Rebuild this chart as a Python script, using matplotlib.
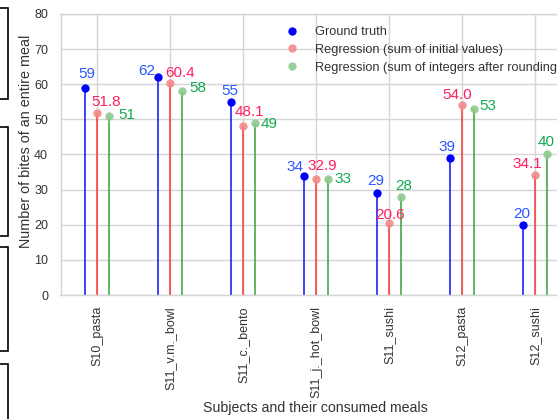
import matplotlib
matplotlib.use("Agg")
import matplotlib.pyplot as plt
from matplotlib.patches import Rectangle
import numpy as np

plt.rcParams['font.family'] = ['Liberation Sans', 'DejaVu Sans']

categories = ["S10_pasta", "S11_v.m._bowl", "S11_c._bento", "S11_j._hot_bowl",
              "S11_sushi", "S12_pasta", "S12_sushi"]
ground_truth = [59, 62, 55, 34, 29, 39, 20]
reg_initial = [51.8, 60.4, 48.1, 32.9, 20.6, 54.0, 34.1]
reg_rounded = [51, 58, 49, 33, 28, 53, 40]
y_ticks = [0, 10, 20, 30, 40, 50, 60, 70, 80]

# label offsets (pixels, image y-down) -- layout only
off_gt = [(1.5, -14), (-11.5, -6), (-1, -11), (-9.5, -9), (-1, -12.5), (-3, -11), (-1, -11)]
off_ri = [(9, -11), (10, -10), (6.5, -14), (6, -13), (1, -8), (-5, -10), (-8, -11)]
off_rr = [(17.5, -1), (15.5, -3.5), (14.5, 1), (15, 0), (2.5, -10.5), (14, -3), (-1, -12)]

W, H = 557, 419
fig = plt.figure(figsize=(W / 100, H / 100), dpi=100)
ax = fig.add_axes([60.5 / W, (H - 295) / H, 511 / W, 281 / H])

x = np.arange(len(categories))
d = 0.164

series = [
    (ground_truth, -d, '#0000ff', '#0000ff', 1.0, '#2a55ff', off_gt, "Ground truth", lambda v: f"{v:d}"),
    (reg_initial, 0.0, '#ff2a2a', '#f28a8a', 0.9, '#ff1f5f', off_ri, "Regression (sum of initial values)", lambda v: f"{v:.1f}"),
    (reg_rounded, d, '#2e9a2e', '#8fca8f', 0.9, '#11aa4e', off_rr, "Regression (sum of integers after rounding)", lambda v: f"{v:d}"),
]

for vals, dx, lc, mc, ma, tc, offs, lab, fmt in series:
    xs = x + dx
    ax.vlines(xs, 0, vals, colors=lc, linewidth=1.3, alpha=0.8, zorder=2)
    ax.plot(xs, vals, 'o', color=mc, markersize=6, alpha=ma, zorder=3, label=lab,
            markeredgewidth=0)
    for xi, v, (ox, oy) in zip(xs, vals, offs):
        ax.annotate(fmt(v), (xi, v), xytext=(ox, -oy), textcoords='offset pixels',
                    ha='center', va='center', color=tc, fontsize=11, zorder=4)

ax.set_xlim(-0.5, len(categories) - 0.5)
ax.set_ylim(0, 80)
ax.set_yticks(y_ticks)
ax.set_xticks(x)
ax.set_xticklabels(categories, rotation=90)
ax.grid(True, color='#d5d5d5', linewidth=1.0, zorder=0)
ax.set_axisbelow(True)
for s in ax.spines.values():
    s.set_color('#d5d5d5')
    s.set_linewidth(1.0)
ax.tick_params(axis='both', length=0, labelsize=9, labelcolor='#333333')
ax.tick_params(axis='y', pad=9)
ax.tick_params(axis='x', pad=8)

ax.set_xlabel("Subjects and their consumed meals", fontsize=10.2, color='#333333')
ax.set_ylabel("Number of bites of an entire meal", fontsize=10.4, color='#333333')
# place axis labels at measured pixel positions (axes coords)
ax.xaxis.set_label_coords((315 - 60.5) / 511, -(401 - 295) / 281)
ax.yaxis.set_label_coords((33 - 60.5) / 511, (295 - 141) / 281)

leg = ax.legend(loc='upper left', bbox_to_anchor=(282 / W, 1 - 26 / H),
                bbox_transform=fig.transFigure, frameon=False, fontsize=9.2,
                handletextpad=1.1, labelspacing=0.45, handlelength=1.5,
                borderaxespad=0, borderpad=0)
for t in leg.get_texts():
    t.set_color('#333333')

# partial boxes at the left edge
for top, bot in [(8, 99), (127, 236), (247, 351), (364, 440)]:
    fig.patches.append(Rectangle((-20 / W, (H - bot) / H), 27.5 / W, (bot - top) / H,
                                 transform=fig.transFigure, fill=False,
                                 edgecolor='black', linewidth=1.2))

fig.savefig("out.png", dpi=100)
